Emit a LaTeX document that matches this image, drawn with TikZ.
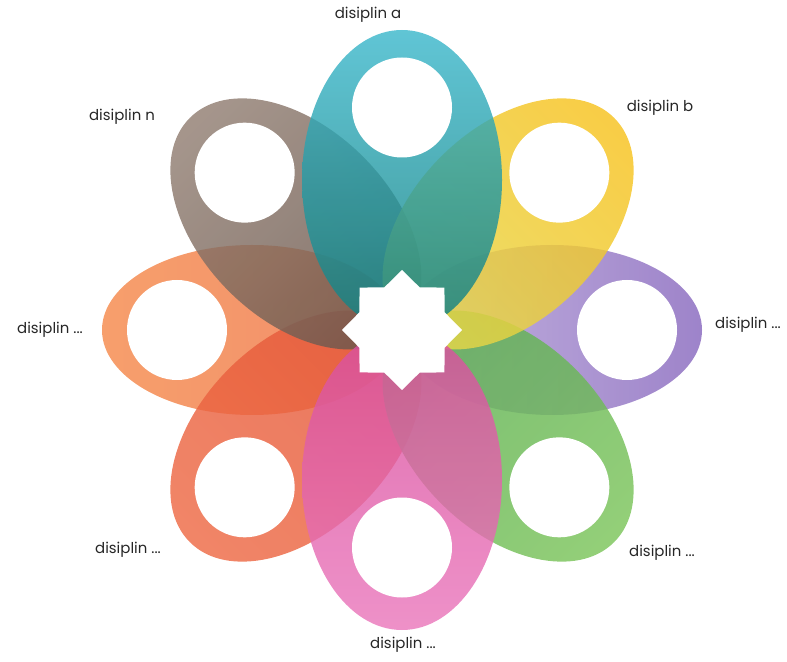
\documentclass[tikz,border=0pt]{standalone}
\usepackage{fontspec}
\setmainfont{Poppins}
\usetikzlibrary{positioning, shapes.geometric, calc}
\definecolor{dsteal}{HTML}{3DB8CC}
\definecolor{dstealin}{HTML}{13807F}
\definecolor{dsyellow}{HTML}{F7C21E}
\definecolor{dsyellowin}{HTML}{E6D84A}
\definecolor{dspurple}{HTML}{8868BE}
\definecolor{dspurplein}{HTML}{B7A3D8}
\definecolor{dsgreen}{HTML}{7BC45A}
\definecolor{dsgreenin}{HTML}{5AAE52}
\definecolor{dspink}{HTML}{EA78BC}
\definecolor{dspinkin}{HTML}{D9509E}
\definecolor{dsred}{HTML}{EE6A45}
\definecolor{dsredin}{HTML}{E4583A}
\definecolor{dsorange}{HTML}{F58A4C}
\definecolor{dsorangein}{HTML}{EE7448}
\definecolor{dsbrown}{HTML}{917E72}
\definecolor{dsbrownin}{HTML}{6A564C}

\begin{document}
\begin{tikzpicture}[
    petal/.style={ellipse, minimum width=6cm, minimum height=3.8cm, inner sep=0pt, fill opacity=0.82},
    hole/.style={circle, fill=white, minimum size=2cm, inner sep=0pt},
    lbl/.style={font=\fontsize{8.5}{10}\selectfont, text=black!85}]
  \useasboundingbox (0,0) rectangle (15.74,13.22);
  \coordinate (c) at (8.04,6.62);

  % petals (outer colour on top, turned outwards)
  \node[petal, minimum height=3.4cm, rotate=180, top color=dsorange, bottom color=dsorangein, shading angle=90] (p7) at ($(c)+(180:3)$) {};
  \node[petal, minimum height=3.4cm, rotate=0, top color=dspurple, bottom color=dspurplein, shading angle=-90] (p3) at ($(c)+(0:3)$) {};
  \node[petal, rotate=-135, top color=dsred, bottom color=dsredin, shading angle=-225] (p6) at ($(c)+(-135:3)$) {};
  \node[petal, rotate=-45, top color=dsgreen, bottom color=dsgreenin, shading angle=-135] (p4) at ($(c)+(-45:3)$) {};
  \node[petal, rotate=135, top color=dsbrown, bottom color=dsbrownin, shading angle=45] (p8) at ($(c)+(135:3)$) {};
  \node[petal, rotate=45, top color=dsyellow, bottom color=dsyellowin, shading angle=-45] (p2) at ($(c)+(45:3)$) {};
  \node[petal, minimum height=4cm, rotate=-90, top color=dspink, bottom color=dspinkin, shading angle=180] (p5) at ($(c)+(-90:3)$) {};
  \node[petal, minimum height=4cm, rotate=90, top color=dsteal, bottom color=dstealin, shading angle=0] (p1) at ($(c)+(90:3)$) {};

  % white holes
  \node[hole] (h1) at ($(c)+(90:4.45)$) {};
  \node[hole] (h2) at ($(c)+(45:4.45)$) {};
  \node[hole] (h3) at ($(c)+(0:4.5)$) {};
  \node[hole] (h4) at ($(c)+(-45:4.45)$) {};
  \node[hole] (h5) at ($(c)+(-90:4.35)$) {};
  \node[hole] (h6) at ($(c)+(-135:4.45)$) {};
  \node[hole] (h7) at ($(c)+(180:4.5)$) {};
  \node[hole] (h8) at ($(c)+(135:4.45)$) {};

  \node[star, star points=8, star point ratio=1.3, fill=white, minimum size=2.4cm, inner sep=0pt] (st) at (c) {};

  % labels
  \node[lbl] (la) at (7.36,12.92) {disiplin a};
  \node[lbl] (lb) at (13.2,11.06) {disiplin b};
  \node[lbl] (lc) at (14.96,6.72) {disiplin ...};
  \node[lbl] (ld) at (13.24,2.16) {disiplin ...};
  \node[lbl] (le) at (8.06,0.32) {disiplin ...};
  \node[lbl] (lf) at (2.56,2.22) {disiplin ...};
  \node[lbl] (lg) at (1.0,6.62) {disiplin ...};
  \node[lbl] (ln) at (2.44,10.88) {disiplin n};
\end{tikzpicture}
\end{document}
